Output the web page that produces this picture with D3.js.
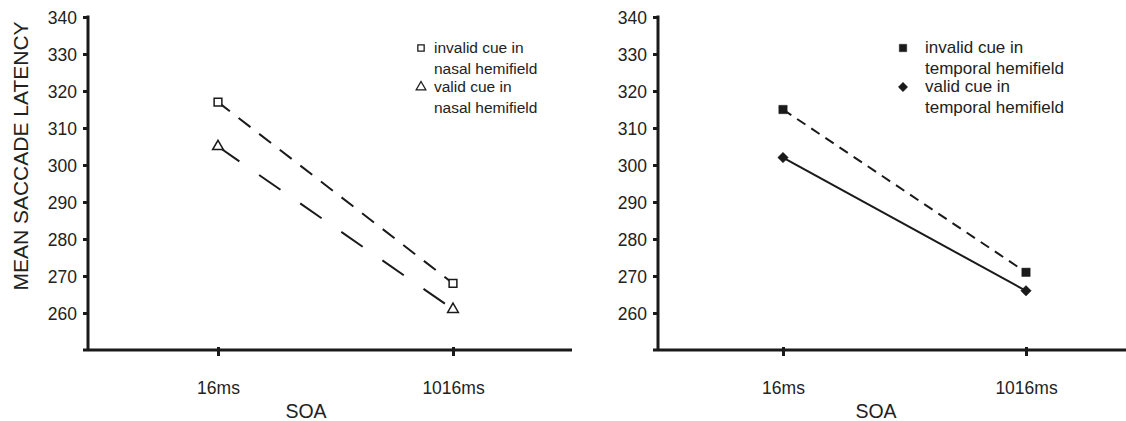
<!DOCTYPE html>
<html>
<head>
<meta charset="utf-8">
<script src="https://cdn.jsdelivr.net/npm/d3@7"></script>
<style>
  body { margin: 0; background: #fff; }
  svg { display: block; font-family: "Liberation Sans", Arial, sans-serif; }
</style>
</head>
<body>
<svg id="chart" width="1126" height="421"></svg>
<script>
// data
var soaLabels = ['16ms', '1016ms'];
var yTicks = [260, 270, 280, 290, 300, 310, 320, 330, 340];
var invalidNasal = [317, 268];
var validNasal = [305, 261];
var invalidTemporal = [315, 271];
var validTemporal = [302, 266];

var svg = d3.select('#chart');
var ink = '#1a1a1a';

var y = d3.scaleLinear().domain([250, 340]).range([350, 17]);

var panels = [
  {
    axisX: 88, axisEnd: 572, pts: [218, 453], legendX: 421, legendSize: 15.5, textGap: 13,
    series: [
      { name: ['invalid cue in', 'nasal hemifield'], values: invalidNasal, dash: '15,11', symbol: 'square', filled: false, size: 60 },
      { name: ['valid cue in', 'nasal hemifield'], values: validNasal, dash: '26,24', symbol: 'triangle', filled: false, size: 50 }
    ]
  },
  {
    axisX: 658, axisEnd: 1126, pts: [783, 1026], legendX: 903, legendSize: 17, textGap: 22,
    series: [
      { name: ['invalid cue in', 'temporal hemifield'], values: invalidTemporal, dash: '10,7', symbol: 'square', filled: true, size: 70 },
      { name: ['valid cue in', 'temporal hemifield'], values: validTemporal, dash: null, symbol: 'diamond', filled: true, size: 70 }
    ]
  }
];

var symbols = { square: d3.symbolSquare, triangle: d3.symbolTriangle, diamond: d3.symbolDiamond2 };

panels.forEach(function (p) {
  var x = d3.scalePoint().domain(soaLabels).range(p.pts);
  var g = svg.append('g');

  // y axis
  var yAxis = g.append('g')
    .attr('transform', 'translate(' + p.axisX + ',0)')
    .call(d3.axisLeft(y).tickValues(yTicks).tickSize(5).tickPadding(6).tickFormat(d3.format('d')));
  yAxis.select('.domain').remove();
  yAxis.selectAll('.tick line').attr('stroke', ink).attr('stroke-width', 3);
  yAxis.selectAll('.tick text').attr('fill', '#222').style('font-size', '17.5px').attr('dy', '0.36em');
  g.append('line')
    .attr('x1', p.axisX).attr('x2', p.axisX)
    .attr('y1', y(340) - 1.5).attr('y2', y(250))
    .attr('stroke', ink).attr('stroke-width', 3);

  // x axis
  g.append('line')
    .attr('x1', p.axisX - 5).attr('x2', p.axisEnd)
    .attr('y1', y(250)).attr('y2', y(250))
    .attr('stroke', ink).attr('stroke-width', 3);
  var xAxis = g.append('g')
    .attr('transform', 'translate(0,' + (y(250) - 3) + ')')
    .call(d3.axisBottom(x).tickSize(9).tickPadding(26));
  xAxis.select('.domain').remove();
  xAxis.selectAll('.tick line').attr('stroke', ink).attr('stroke-width', 3);
  xAxis.selectAll('.tick text').attr('fill', '#222').style('font-size', '17.5px');

  g.append('text')
    .attr('x', p.axisX + 218).attr('y', 418)
    .attr('text-anchor', 'middle')
    .attr('fill', '#222')
    .style('font-size', '19.5px')
    .text('SOA');

  // lines
  var line = d3.line()
    .x(function (d, i) { return x(soaLabels[i]); })
    .y(function (d) { return y(d); });

  p.series.forEach(function (s) {
    g.append('path')
      .datum(s.values)
      .attr('d', line)
      .attr('fill', 'none')
      .attr('stroke', ink)
      .attr('stroke-width', 2)
      .attr('stroke-dasharray', s.dash);
  });

  // markers
  p.series.forEach(function (s) {
    g.selectAll(null)
      .data(s.values)
      .enter()
      .append('path')
      .attr('transform', function (d, i) { return 'translate(' + x(soaLabels[i]) + ',' + y(d) + ')'; })
      .attr('d', d3.symbol().type(symbols[s.symbol]).size(s.size))
      .attr('fill', s.filled ? ink : '#fff')
      .attr('stroke', ink)
      .attr('stroke-width', s.filled ? 0.5 : 1.5);
  });

  // legend
  var leg = g.append('g');
  p.series.forEach(function (s, i) {
    var top = 48 + i * 39;
    leg.append('path')
      .attr('transform', 'translate(' + p.legendX + ',' + top + ')')
      .attr('d', d3.symbol().type(symbols[s.symbol]).size(s.filled ? 55 : 40))
      .attr('fill', s.filled ? ink : '#fff')
      .attr('stroke', ink)
      .attr('stroke-width', s.filled ? 0.5 : 1.3);
    var t = leg.append('text')
      .attr('x', p.legendX + p.textGap)
      .attr('y', top + 5)
      .attr('fill', '#222')
      .style('font-size', p.legendSize + 'px');
    s.name.forEach(function (ln, j) {
      t.append('tspan')
        .attr('x', p.legendX + p.textGap)
        .attr('dy', j === 0 ? 0 : 21)
        .text(ln);
    });
  });
});

// y axis title
svg.append('text')
  .attr('transform', 'translate(28,156) rotate(-90)')
  .attr('text-anchor', 'middle')
  .attr('fill', '#222')
  .style('font-size', '21px')
  .text('MEAN SACCADE LATENCY');
</script>
</body>
</html>
